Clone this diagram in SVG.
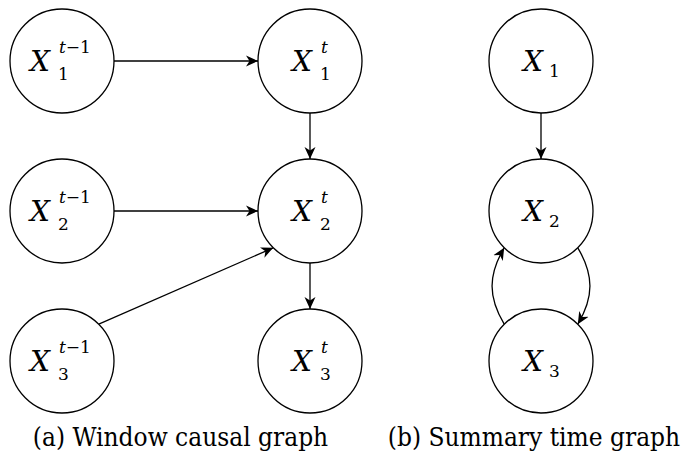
<svg xmlns="http://www.w3.org/2000/svg" width="686" height="459" viewBox="0 0 686 459">
<style>
.node{fill:#fff;stroke:#000;stroke-width:1.3}
.edge{fill:none;stroke:#000;stroke-width:1.3}
.X{font-style:italic;font-size:28px}
.s{font-size:17px}
.i{font-style:italic}
.cap{font-size:26px}
</style>
<defs>
<marker id="arr" markerUnits="userSpaceOnUse" markerWidth="14" markerHeight="12" refX="12" refY="6" orient="auto" viewBox="0 0 14 12">
<path d="M0,0.5 L12,6 L0,11.5 L3.5,6 Z" fill="#000"/>
</marker>
</defs>
<rect width="686" height="459" fill="#fff"/>
<g id="connectors">
<line class="edge" x1="114" y1="61" x2="258" y2="61" marker-end="url(#arr)"/>
<line class="edge" x1="114" y1="211" x2="258" y2="211" marker-end="url(#arr)"/>
<line class="edge" x1="98.8" y1="324.2" x2="273.2" y2="247.8" marker-end="url(#arr)"/>
<line class="edge" x1="310" y1="113" x2="310" y2="159" marker-end="url(#arr)"/>
<line class="edge" x1="310" y1="263" x2="310" y2="309" marker-end="url(#arr)"/>
<line class="edge" x1="541" y1="113" x2="541" y2="159" marker-end="url(#arr)"/>
<path class="edge" d="M577.8,247.8 C594,275 594,297 577.8,324.2" marker-end="url(#arr)"/>
<path class="edge" d="M504.2,324.2 C488,297 488,275 504.2,247.8" marker-end="url(#arr)"/>
</g>
<g font-family="DejaVu Serif, serif">
<g id="n_x1_tm1">
<circle class="node" cx="62" cy="61" r="52"/>
<text x="30" y="71"><tspan class="X">X</tspan><tspan class="s" x="59" y="53"><tspan class="i">t</tspan>−1</tspan><tspan class="s" x="58" y="80">1</tspan></text>
</g>
<g id="n_x2_tm1">
<circle class="node" cx="62" cy="211" r="52"/>
<text x="30" y="221"><tspan class="X">X</tspan><tspan class="s" x="59" y="203"><tspan class="i">t</tspan>−1</tspan><tspan class="s" x="58" y="230">2</tspan></text>
</g>
<g id="n_x3_tm1">
<circle class="node" cx="62" cy="361" r="52"/>
<text x="30" y="371"><tspan class="X">X</tspan><tspan class="s" x="59" y="353"><tspan class="i">t</tspan>−1</tspan><tspan class="s" x="58" y="380">3</tspan></text>
</g>
<g id="n_x1_t">
<circle class="node" cx="310" cy="61" r="52"/>
<text x="292" y="71"><tspan class="X">X</tspan><tspan class="s i" x="321" y="53">t</tspan><tspan class="s" x="320" y="80">1</tspan></text>
</g>
<g id="n_x2_t">
<circle class="node" cx="310" cy="211" r="52"/>
<text x="292" y="221"><tspan class="X">X</tspan><tspan class="s i" x="321" y="203">t</tspan><tspan class="s" x="320" y="230">2</tspan></text>
</g>
<g id="n_x3_t">
<circle class="node" cx="310" cy="361" r="52"/>
<text x="292" y="371"><tspan class="X">X</tspan><tspan class="s i" x="321" y="353">t</tspan><tspan class="s" x="320" y="380">3</tspan></text>
</g>
<g id="n_x1">
<circle class="node" cx="541" cy="61" r="52"/>
<text x="523" y="71"><tspan class="X">X</tspan><tspan class="s" x="549" y="77">1</tspan></text>
</g>
<g id="n_x2">
<circle class="node" cx="541" cy="211" r="52"/>
<text x="523" y="221"><tspan class="X">X</tspan><tspan class="s" x="549" y="227">2</tspan></text>
</g>
<g id="n_x3">
<circle class="node" cx="541" cy="361" r="52"/>
<text x="523" y="371"><tspan class="X">X</tspan><tspan class="s" x="549" y="377">3</tspan></text>
</g>
<text class="cap" transform="translate(180.5,446) scale(0.9,1)" text-anchor="middle">(a) Window causal graph</text>
<text class="cap" transform="translate(534,446) scale(0.9,1)" text-anchor="middle">(b) Summary time graph</text>
</g>
</svg>
